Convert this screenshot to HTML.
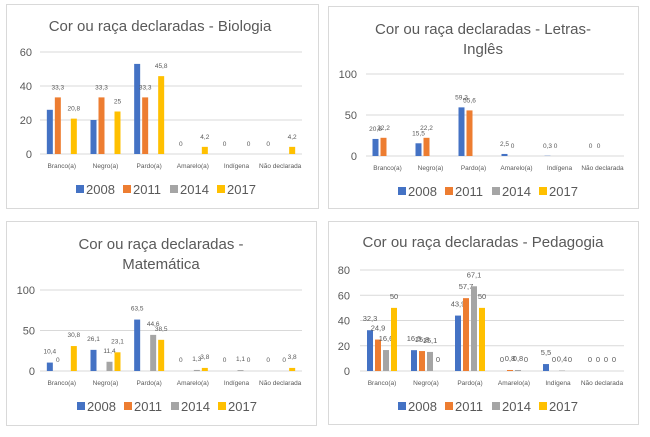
<!DOCTYPE html>
<html><head><meta charset="utf-8">
<style>
body{margin:0;width:650px;height:437px;background:#fff;overflow:hidden;font-family:"Liberation Sans",sans-serif;}
svg{position:absolute;left:0;top:0}
</style></head>
<body>
<svg id="c" width="650" height="437"></svg>
<script>
const categories=["Branco(a)","Negro(a)","Pardo(a)","Amarelo(a)","Indígena","Não declarada"];
const years=["2008","2011","2014","2017"];
const colors=["#4472C4","#ED7D31","#A5A5A5","#FFC000"];
// Biologia
const bio2008=[26,20,53,0,0,0];
const bio2011=[33.3,33.3,33.3,0,0,0];
const bio2014=[0,0,0,0,0,0];
const bio2017=[20.8,25,45.8,4.2,0,4.2];
const bioLabels2011=["33,3","33,3","33,3",null,null,null];
const bioLabels2017=["20,8","25","45,8","4,2","0","4,2"];
const bioLabels2008=[null,null,null,"0","0","0"];
const bioTicks=[0,20,40,60];
// Letras
const let2008=[20.8,15.5,59.3,2.5,0.3,0];
const let2011=[22.2,22.2,55.6,0,0,0];
const let2014=[0,0,0,0,0,0];
const let2017=[0,0,0,0,0,0];
const letLabels2008=["20,8","15,5","59,3","2,5","0,3","0"];
const letLabels2011=["22,2","22,2","55,6","0","0","0"];
const letTicks=[0,50,100];
// Matematica
const mat2008=[10.4,26.1,63.5,0,0,0];
const mat2011=[0,0,0,0,0,0];
const mat2014=[0,11.4,44.6,1.3,1.1,0];
const mat2017=[30.8,23.1,38.5,3.8,0,3.8];
const matLabels2008=["10,4","26,1","63,5","0","0","0"];
const matLabels2011=["0",null,null,null,null,null];
const matLabels2014=[null,"11,4","44,6","1,3","1,1","0"];
const matLabels2017=["30,8","23,1","38,5","3,8","0","3,8"];
const matTicks=[0,50,100];
// Pedagogia
const ped2008=[32.3,16.5,43.9,0,5.5,0];
const ped2011=[24.9,15.8,57.7,0.8,0,0];
const ped2014=[16.6,15.1,67.1,0.8,0.4,0];
const ped2017=[50,0,50,0,0,0];
const pedLabels2008=["32,3","16,5","43,9","0","5,5","0"];
const pedLabels2011=["24,9","15,8","57,7","0,8","0","0"];
const pedLabels2014=["16,6","15,1","67,1","0,8","0,4","0"];
const pedLabels2017=["50","0","50","0","0","0"];
const pedTicks=[0,20,40,60,80];

const NS="http://www.w3.org/2000/svg";
const svg=document.getElementById('c');
function mk(tag,attrs,parent){const e=document.createElementNS(NS,tag);for(const k in attrs)e.setAttribute(k,attrs[k]);(parent||svg).appendChild(e);return e;}
function txt(s,x,y,size,fill,anchor,parent){const t=mk('text',{x:x,y:y,'font-size':size,fill:fill,'text-anchor':anchor||'middle'},parent);t.textContent=s;return t;}

function chart(cfg){
  const g=mk('g',{});
  
  
  const box=mk('rect',{x:cfg.bx,y:cfg.by,width:cfg.bw,height:cfg.bh,fill:'#fff',stroke:'#d9d9d9','stroke-width':1},g);
  
  
  cfg.title.forEach((l,i)=>{const t=txt(l,cfg.tx,cfg.ty+i*20,15,'#595959','middle',g);
    
    });
  const y=v=>cfg.y0-(v/cfg.max)*(cfg.y0-cfg.ytop);
  cfg.ticks.forEach(tv=>{
    const gl=mk('line',{x1:cfg.px0,x2:cfg.px1,y1:y(tv),y2:y(tv),stroke:'#d9d9d9','stroke-width':1},g);
    
    
    const t=txt(String(tv),cfg.lx,y(tv)+4,11,'#595959','end',g);
    
    
  });
  const cw=(cfg.px1-cfg.px0)/categories.length;
  const bw=6,step=8;
  categories.forEach((c,i)=>{
    const cx=cfg.px0+cw*(i+0.5);
    const t=txt(c,cx,cfg.y0+14,6.5,'#595959','middle',g);
    
    
    cfg.series.forEach((s,j)=>{
      const v=s[i];const bx=cx-16+j*step+1;
      if(v>0){const r=mk('rect',{x:bx,y:y(v),width:bw,height:cfg.y0-y(v),fill:colors[j]},g);
        
        }
      const lab=cfg.labels[j]&&cfg.labels[j][i];
      if(lab!=null){const lt=txt(lab,bx+3,y(v)-cfg.lo,cfg.ls,'#595959','middle',g);
        
        }
    });
  });
  const lw=[0,1,2,3].map(k=>cfg.lgx+k*47);
  years.forEach((yr,k)=>{
    const r=mk('rect',{x:lw[k],y:cfg.lgy-9,width:8,height:8,fill:colors[k]},g);
    
    
    const t=txt(yr,lw[k]+10,cfg.lgy,13,'#595959','start',g);
    
    
  });
}
chart({name:'chart-biologia',bx:6.5,by:4.5,bw:312,bh:204,title:["Cor ou raça declaradas - Biologia"],tx:160,ty:31,
  ticks:bioTicks,max:60,y0:154,ytop:52,px0:40,px1:302,lx:32,series:[bio2008,bio2011,bio2014,bio2017],
  labels:[bioLabels2008,bioLabels2011,null,bioLabels2017],lo:8,ls:6.5,lgx:76,lgy:194});
chart({name:'chart-letras-ingles',bx:328.5,by:6.5,bw:310,bh:202,title:["Cor ou raça declaradas - Letras-","Inglês"],tx:483,ty:34,
  ticks:letTicks,max:100,y0:156,ytop:74,px0:366,px1:624,lx:357,series:[let2008,let2011,let2014,let2017],
  labels:[letLabels2008,letLabels2011,null,null],lo:8,ls:6.5,lgx:398,lgy:196});
chart({name:'chart-matematica',bx:6.5,by:221.5,bw:310,bh:204,title:["Cor ou raça declaradas -","Matemática"],tx:161,ty:249,
  ticks:matTicks,max:100,y0:371,ytop:290,px0:40,px1:302,lx:35,series:[mat2008,mat2011,mat2014,mat2017],
  labels:[matLabels2008,matLabels2011,matLabels2014,matLabels2017],lo:9,ls:6.5,lgx:77,lgy:411});
chart({name:'chart-pedagogia',bx:328.5,by:221.5,bw:310,bh:203,title:["Cor ou raça declaradas - Pedagogia"],tx:483,ty:247,
  ticks:pedTicks,max:80,y0:371,ytop:270,px0:360,px1:624,lx:350,series:[ped2008,ped2011,ped2014,ped2017],
  labels:[pedLabels2008,pedLabels2011,pedLabels2014,pedLabels2017],lo:9,ls:7.5,lgx:398,lgy:411});
</script>
</body></html>
